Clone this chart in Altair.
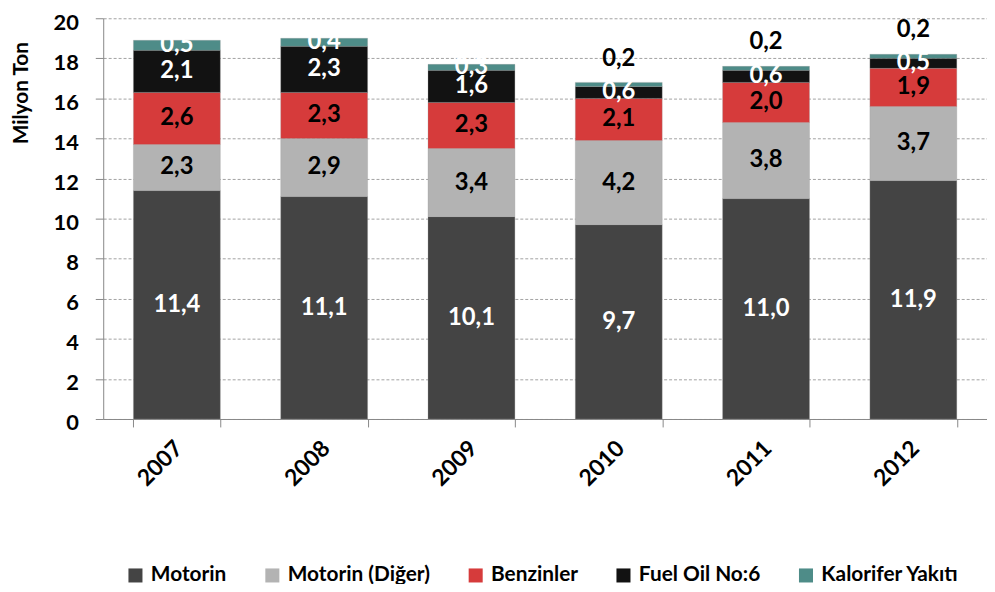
import altair as alt
import pandas as pd

years = ["2007", "2008", "2009", "2010", "2011", "2012"]
series = ["Motorin", "Motorin (Diğer)", "Benzinler", "Fuel Oil No:6", "Kalorifer Yakıtı"]
motorin = [11.4, 11.1, 10.1, 9.7, 11.0, 11.9]
motorin_diger = [2.3, 2.9, 3.4, 4.2, 3.8, 3.7]
benzinler = [2.6, 2.3, 2.3, 2.1, 2.0, 1.9]
fuel_oil = [2.1, 2.3, 1.6, 0.6, 0.6, 0.5]
kalorifer = [0.5, 0.4, 0.3, 0.2, 0.2, 0.2]
colors = ["#444444", "#b3b3b3", "#d63b3b", "#121212", "#4e8c88"]
label_colors = ["white", "black", "black", "white", "white"]
y_ticks = [0, 2, 4, 6, 8, 10, 12, 14, 16, 18, 20]

rows = []
for si, (name, vals) in enumerate(zip(series, [motorin, motorin_diger, benzinler, fuel_oil, kalorifer])):
    for y, v in zip(years, vals):
        rows.append({"year": y, "series": name, "value": v, "idx": si, "lcolor": label_colors[si]})
df = pd.DataFrame(rows)

FONT = "Lato"

base = alt.Chart(df)

x_enc = alt.X("year:N", title=None,
              scale=alt.Scale(paddingInner=0.41, paddingOuter=0.205),
              axis=alt.Axis(labelAngle=-45, labelFontSize=23, labelFont=FONT, labelFontWeight="bold",
                            labelColor="black", domainColor="#888888", tickColor="#888888",
                            tickSize=8, tickBand="extent", labelPadding=10, labelOffset=-6,
                            grid=False))

bars = base.mark_bar(stroke="#9a9a9a", strokeWidth=0.6, strokeOpacity=0.5).encode(
    x=x_enc,
    y=alt.Y("value:Q", stack="zero", title="Milyon Ton",
            scale=alt.Scale(domain=[0, 20], nice=False),
            axis=alt.Axis(values=y_ticks, labelFontSize=22, labelFont=FONT, labelFontWeight="bold",
                          labelColor="black", labelPadding=17, labelOffset=4, tickSize=8,
                          tickColor="#888888", domainColor="#888888", gridColor="#8a8a8a",
                          gridDash=[3, 2], gridOpacity=0.8, titleFont=FONT, titleFontSize=21,
                          titleFontWeight="bold", titleColor="black", titleX=-82, titleY=75,
                          titleAlign="center", titleBaseline="middle", titleAngle=270)),
    color=alt.Color("series:N", scale=alt.Scale(domain=series, range=colors),
                    legend=alt.Legend(title=None, orient="none", legendX=22, legendY=551,
                                      direction="horizontal", symbolType="square", symbolSize=200,
                                      symbolStrokeWidth=0, labelFont=FONT, labelFontSize=21,
                                      labelFontWeight="bold", labelColor="black", columnPadding=35,
                                      labelOffset=5, columns=5, padding=0)),
    order=alt.Order("idx:Q", sort="ascending"),
)

stacked = base.transform_stack(
    stack="value", groupby=["year"], sort=[alt.SortField("idx", order="ascending")], as_=["y0", "y1"]
).transform_calculate(
    mid="(datum.y0 + datum.y1) / 2",
    label="replace(format(datum.value, '.1f'), '.', ',')",
)

inside = stacked.transform_filter(
    "!(datum.idx == 4 && datum.value <= 0.2)"
).mark_text(font=FONT, fontSize=24, fontWeight="bold").encode(
    x=alt.X("year:N"),
    y=alt.Y("mid:Q"),
    text="label:N",
    color=alt.Color("lcolor:N", scale=None),
)

outside = stacked.transform_filter(
    "datum.idx == 4 && datum.value <= 0.2"
).mark_text(font=FONT, fontSize=24, fontWeight="bold", color="black", dy=-24).encode(
    x=alt.X("year:N"),
    y=alt.Y("y1:Q"),
    text="label:N",
)

chart = alt.layer(bars, inside, outside).properties(
    width=891, height=404,
    autosize=alt.AutoSizeParams(type="none"),
    padding={"left": 96, "top": 8, "right": 0, "bottom": 164},
).configure_view(stroke=None).configure_axisY(zindex=1)

chart.save("out.html", embed_options={"renderer": "svg", "actions": False})
